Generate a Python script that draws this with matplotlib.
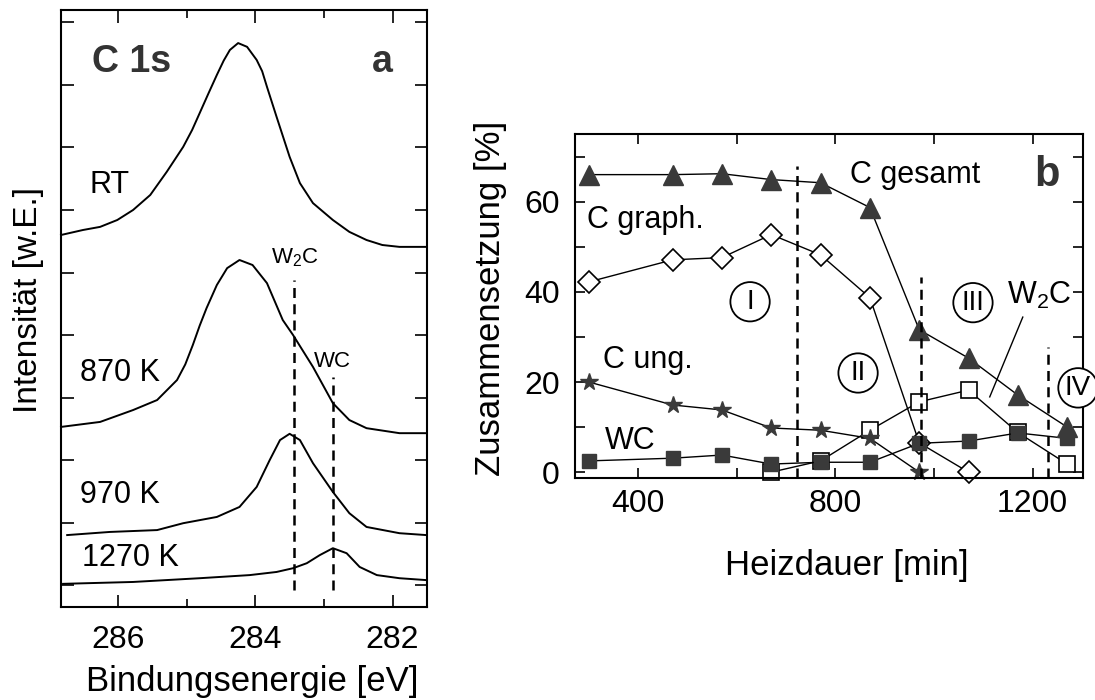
import numpy as np
import matplotlib
matplotlib.use('Agg')
import matplotlib.pyplot as plt
from matplotlib.ticker import FixedLocator

plt.rcParams['font.family'] = ['Liberation Sans', 'DejaVu Sans']
plt.rcParams['mathtext.fontset'] = 'custom'
plt.rcParams['mathtext.rm'] = 'Liberation Sans'

# ---- Panel a: C 1s spectra ----
e_rt = [286.83, 286.51, 286.26, 286.01, 285.78, 285.53, 285.29, 285.05, 284.92, 284.81, 284.68, 284.56,
        284.46, 284.37, 284.25, 284.12, 283.98, 283.90, 283.83, 283.69, 283.50, 283.35, 283.16, 282.87,
        282.63, 282.38, 282.15, 281.90, 281.51]
i_rt = [5.95, 6.03, 6.08, 6.19, 6.35, 6.59, 6.96, 7.36, 7.63, 7.90, 8.22, 8.51,
        8.74, 8.91, 9.02, 8.96, 8.75, 8.57, 8.32, 7.84, 7.20, 6.78, 6.46, 6.19,
        6.00, 5.87, 5.79, 5.76, 5.76]

e_870 = [286.83, 286.26, 285.78, 285.43, 285.14, 285.02, 284.91, 284.81, 284.71, 284.56, 284.41, 284.23,
         284.04, 283.83, 283.60, 283.45, 283.16, 282.87, 282.63, 282.38, 281.90, 281.51]
i_870 = [2.88, 2.96, 3.15, 3.31, 3.63, 3.88, 4.19, 4.50, 4.78, 5.15, 5.42, 5.55,
         5.47, 5.18, 4.59, 4.35, 3.84, 3.26, 2.99, 2.86, 2.78, 2.78]

e_970 = [286.74, 286.12, 285.43, 285.05, 284.56, 284.23, 283.98, 283.79, 283.64, 283.50,
         283.35, 283.16, 282.87, 282.63, 282.38, 281.90, 281.51]
i_970 = [1.15, 1.20, 1.23, 1.34, 1.44, 1.60, 1.92, 2.35, 2.67, 2.77,
         2.67, 2.30, 1.84, 1.50, 1.28, 1.18, 1.15]

e_1270 = [286.80, 285.78, 284.81, 284.08, 283.69, 283.45, 283.25, 283.06, 282.87,
          282.67, 282.48, 282.23, 281.90, 281.51]
i_1270 = [0.37, 0.40, 0.46, 0.51, 0.56, 0.62, 0.70, 0.83, 0.94,
          0.86, 0.64, 0.51, 0.46, 0.43]

spektren = [(e_rt, i_rt, 'RT', 286.41, 6.75), (e_870, i_870, '870 K', 286.55, 3.74),
            (e_970, i_970, '970 K', 286.55, 1.79), (e_1270, i_1270, '1270 K', 286.52, 0.78)]

e_w2c, e_wc = 283.43, 282.87

# ---- Panel b: composition vs heating time ----
heiz = [300, 470, 570, 670, 770, 870, 970, 1070, 1170, 1270]
c_gesamt = [66.0, 66.0, 66.2, 64.9, 64.2, 58.7, 31.6, 25.3, 17.1, 10.0]
c_graph = [42.2, 47.1, 47.6, 52.7, 48.2, 38.7, 6.5, 0.0]
c_ung = [20.0, 14.9, 13.8, 9.8, 9.3, 7.5, 0.0]
wc = [2.5, 3.1, 3.8, 1.8, 2.2, 2.2, 6.4, 6.9, 8.7, 7.5]
w2c = [0.0, 2.5, 9.3, 15.6, 18.2, 8.8, 1.8]

grenzen = [722, 974, 1231]
grenzen_top = [68, 43.3, 27.8]
bereiche = ['I', 'II', 'III', 'IV']
bereich_x = [627, 846, 1079, 1292]
bereich_y = [37.8, 22.0, 37.6, 18.7]

fig = plt.figure(figsize=(10.95, 7), dpi=100)
ax1 = fig.add_axes([0.0557, 0.1329, 0.3342, 0.8529])
ax2 = fig.add_axes([0.5251, 0.3171, 0.4639, 0.4914])

# panel a
for e, i, name, xtext, ytext in spektren:
    ax1.plot(e, i, color='k', lw=1.4, clip_on=False)
    ax1.text(xtext, ytext, name, fontsize=22, ha='left', va='center')

ax1.plot([e_w2c, e_w2c], [0.27, 5.23], color='k', lw=1.8, ls=(0, (4, 2.5)))
ax1.plot([e_wc, e_wc], [0.27, 3.68], color='k', lw=1.8, ls=(0, (4, 2.5)))
ax1.text(e_w2c, 5.58, 'W$_2$C', fontsize=16, ha='center', va='center')
ax1.text(e_wc, 3.92, 'WC', fontsize=16, ha='center', va='center')
ax1.text(286.38, 8.72, 'C 1s', fontsize=27, fontweight='bold', color='#333333', va='center')
ax1.text(282.15, 8.72, 'a', fontsize=27, fontweight='bold', color='#333333', ha='center', va='center')

ax1.set_xlim(286.83, 281.5)
ax1.set_ylim(0, 9.55)
ax1.set_xticks([286, 284, 282])
ax1.xaxis.set_minor_locator(FixedLocator([285, 283]))
ax1.set_yticks([0.35 + k for k in range(10)])
ax1.set_yticklabels([])
ax1.tick_params(axis='x', which='major', direction='in', top=True, length=9, width=1.2,
                labelsize=23, pad=13)
ax1.tick_params(axis='x', which='minor', direction='in', top=True, length=6, width=1.2)
ax1.tick_params(axis='y', direction='in', right=True, length=9, width=1.2)
ax1.set_xlabel('Bindungsenergie [eV]', fontsize=25, va='center')
ax1.xaxis.set_label_coords(0.522, -0.124)
ax1.set_ylabel('Intensität [w.E.]', fontsize=24, va='center')
ax1.yaxis.set_label_coords(-0.09, 0.514)
for s in ax1.spines.values():
    s.set_linewidth(1.5)

# panel b
dunkel = '#3a3a3a'
ax2.plot(heiz[:len(c_graph)], c_graph, '-', color='k', lw=1.0, marker='D', ms=11,
         mfc='white', mec='k', mew=1.2, clip_on=False)
ax2.plot(heiz[3:], w2c, '-', color='k', lw=1.0, marker='s', ms=11,
         mfc='white', mec='k', mew=1.2, clip_on=False)
ax2.plot(heiz[:len(c_ung)], c_ung, '-', color='k', lw=1.0, marker='*', ms=13,
         mfc=dunkel, mec=dunkel, clip_on=False)
ax2.plot(heiz, wc, '-', color='k', lw=1.0, marker='s', ms=10,
         mfc=dunkel, mec=dunkel, clip_on=False)
ax2.plot(heiz, c_gesamt, '-', color='k', lw=1.0, marker='^', ms=14,
         mfc=dunkel, mec=dunkel, clip_on=False)

for gx, gtop in zip(grenzen, grenzen_top):
    ax2.plot([gx, gx], [-1.3, gtop], color='k', lw=1.8, ls=(0, (4, 2.5)))

# circled region numbers
for txt, bx, by in zip(bereiche, bereich_x, bereich_y):
    ax2.text(bx, by, txt, fontsize=20, ha='center', va='center', clip_on=False,
             bbox=dict(boxstyle='circle,pad=0.24', fc='white', ec='k', lw=1.3))

ax2.text(830, 66, 'C gesamt', fontsize=22, va='center')
ax2.text(1229, 66, 'b', fontsize=30, fontweight='bold', color='#333333', ha='center', va='center')
ax2.text(297, 56, 'C graph.', fontsize=22, va='center')
ax2.text(329, 24.9, 'C ung.', fontsize=22, va='center')
ax2.text(333, 6.9, 'WC', fontsize=22, va='center')
ax2.text(1213, 39.3, 'W$_2$C', fontsize=22, ha='center', va='center')
ax2.plot([1180, 1113], [34.4, 16.7], color='k', lw=1.0)

ax2.set_xlim(272, 1302)
ax2.set_ylim(-1.3, 75)
ax2.set_xticks([400, 800, 1200])
ax2.xaxis.set_minor_locator(FixedLocator([600, 1000]))
ax2.set_yticks([0, 20, 40, 60])
ax2.yaxis.set_minor_locator(FixedLocator([10, 30, 50, 70]))
ax2.tick_params(which='both', direction='in', top=True, right=True, length=7, width=1.2)
ax2.tick_params(axis='x', labelsize=23, pad=8)
ax2.tick_params(axis='y', labelsize=23, pad=11)
ax2.set_xlabel('Heizdauer [min]', fontsize=25, va='center')
ax2.xaxis.set_label_coords(0.535, -0.253)
ax2.set_ylabel('Zusammensetzung [%]', fontsize=25, va='center')
ax2.yaxis.set_label_coords(-0.167, 0.523)
for s in ax2.spines.values():
    s.set_linewidth(1.5)

fig.savefig('out.png', dpi=100)
